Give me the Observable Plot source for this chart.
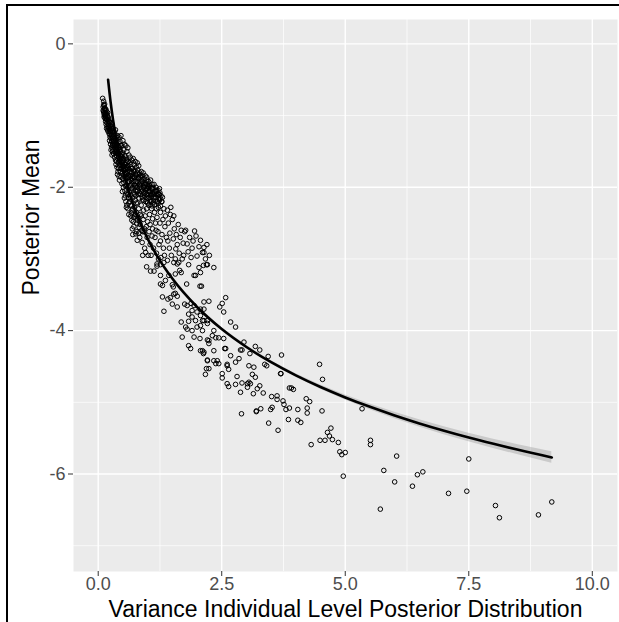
<!DOCTYPE html>
<html><head><meta charset="utf-8">
<script src="https://cdn.jsdelivr.net/npm/d3@7"></script>
<script src="https://cdn.jsdelivr.net/npm/@observablehq/plot@0.6"></script>
<style>
html,body{margin:0;padding:0;background:#fff;}
#wrap{position:relative;width:619px;height:622px;overflow:hidden;}
#frame{position:absolute;left:6px;top:4px;width:800px;height:800px;border-left:2px solid #000;border-top:2px solid #000;pointer-events:none;}
</style></head><body><div id="wrap"><div id="chart"></div><div id="frame"></div></div>
<script>
// ---- tick labels / titles ----
const xTicks = [0, 2.5, 5, 7.5, 10];
const xMinor = [1.25, 3.75, 6.25, 8.75];
const yTicks = [0, -2, -4, -6];
const yMinor = [-1, -3, -5, -7];
const xTitle = "Variance Individual Level Posterior Distribution";
const yTitle = "Posterior Mean";

// ---- scatter points [variance, posterior mean] ----
const denseSpine = [
[0.11,-0.80],[0.12,-0.86],[0.13,-0.84],[0.14,-0.90],[0.15,-0.93],[0.16,-0.92],[0.17,-0.97],[0.18,-1.00],[0.19,-0.96],[0.20,-1.02],[0.21,-1.05],[0.22,-1.08],[0.23,-1.10],[0.24,-1.14],[0.25,-1.16],[0.26,-1.20],[0.27,-1.18],[0.15,-0.99],[0.18,-1.06],[0.21,-1.17],[0.24,-1.22],[0.27,-1.36],[0.29,-1.42],[0.12,-1.02],[0.16,-1.05],
[0.28,-1.12],[0.30,-1.18],[0.32,-1.22],[0.34,-1.26],[0.36,-1.30],[0.38,-1.34],[0.40,-1.38],[0.31,-1.26],[0.35,-1.20],[0.39,-1.28],[0.33,-1.32],[0.37,-1.40],[0.29,-1.22],[0.41,-1.44],[0.26,-1.10],
[0.42,-1.30],[0.44,-1.36],[0.46,-1.28],[0.48,-1.42],[0.50,-1.35],[0.52,-1.48],[0.45,-1.50],[0.47,-1.58],[0.49,-1.52],[0.51,-1.62],[0.53,-1.40],[0.54,-1.56],[0.43,-1.44],[0.55,-1.68],[0.50,-1.60],[0.46,-1.42],[0.52,-1.72],[0.44,-1.55],[0.48,-1.66],[0.54,-1.80],
[0.56,-1.42],[0.58,-1.50],[0.60,-1.45],[0.62,-1.55],[0.57,-1.62],[0.59,-1.70],[0.61,-1.64],[0.63,-1.76],[0.65,-1.58],[0.66,-1.68],[0.64,-1.84],[0.67,-1.80],[0.68,-1.62],[0.69,-1.74],[0.58,-1.82],[0.60,-1.92],[0.62,-1.86],[0.66,-1.90],[0.70,-1.85],[0.56,-1.75],
[0.71,-1.60],[0.73,-1.68],[0.75,-1.64],[0.77,-1.72],[0.79,-1.66],[0.72,-1.78],[0.74,-1.86],[0.76,-1.82],[0.78,-1.92],[0.80,-1.76],[0.82,-1.70],[0.84,-1.80],[0.81,-1.88],[0.83,-1.96],[0.85,-1.86],[0.87,-1.78],[0.86,-1.94],[0.88,-2.02],[0.89,-1.84],[0.90,-1.92],[0.71,-1.92],[0.75,-2.04],[0.79,-2.00],[0.83,-2.08],
[0.91,-1.80],[0.93,-1.88],[0.95,-1.84],[0.97,-1.96],[0.99,-1.90],[0.92,-2.00],[0.94,-2.12],[0.96,-2.04],[0.98,-1.86],[1.00,-1.98],[1.02,-1.92],[1.04,-2.06],[1.01,-2.16],[1.03,-1.96],[1.05,-2.00],[1.06,-1.90],[1.08,-2.02],[1.07,-2.20],[1.09,-1.96],[1.10,-2.08],
[1.11,-2.00],[1.13,-1.96],[1.15,-2.06],[1.17,-2.00],[1.19,-2.10],[1.21,-2.04],[1.23,-2.16],[1.25,-2.08],[1.27,-2.12],[1.29,-2.20],[1.14,-2.24],[1.18,-2.30],[1.22,-2.22],[1.26,-2.26],[1.12,-2.10]
];
const denseCore = [
[0.31,-1.30],[0.32,-1.36],[0.34,-1.40],[0.35,-1.34],[0.36,-1.48],[0.37,-1.44],[0.38,-1.40],[0.39,-1.52],[0.40,-1.46],[0.41,-1.54],[0.42,-1.50],[0.43,-1.62],[0.44,-1.48],[0.45,-1.60],[0.46,-1.56],[0.47,-1.66],[0.48,-1.54],[0.49,-1.70],[0.50,-1.64],[0.51,-1.76],
[0.52,-1.60],[0.53,-1.68],[0.54,-1.74],[0.55,-1.58],[0.56,-1.86],[0.57,-1.72],[0.58,-1.66],[0.59,-1.78],[0.60,-1.74],[0.61,-1.84],[0.62,-1.70],[0.63,-1.92],[0.64,-1.66],[0.65,-1.78],[0.66,-1.84],[0.67,-1.94],[0.68,-1.74],[0.69,-1.88],[0.70,-2.00],[0.71,-1.76],
[0.72,-1.86],[0.73,-2.10],[0.74,-1.76],[0.75,-1.92],[0.76,-1.98],[0.77,-1.84],[0.78,-2.06],[0.79,-1.80],[0.80,-1.94],[0.81,-2.10],[0.82,-1.86],[0.83,-1.82],[0.84,-1.98],[0.85,-2.00],[0.86,-1.84],[0.87,-2.06],[0.88,-1.90],[0.89,-2.14],[0.90,-2.04],[0.91,-1.94],
[0.92,-2.18],[0.93,-2.00],[0.94,-1.96],[0.95,-2.08],[0.96,-1.94],[0.97,-2.14],[0.98,-2.10],[0.99,-2.02],[1.00,-2.22],[1.01,-2.06],[1.02,-2.00],[1.03,-2.14],[1.04,-1.98],[1.05,-2.24],[1.06,-2.08],[1.08,-2.12],[1.09,-2.26],[1.10,-2.02],[1.12,-2.18],[1.14,-2.08],
[1.16,-2.14],[1.18,-2.04],[1.20,-2.20],[1.22,-2.10],[1.24,-2.02],[1.26,-2.16],[0.55,-1.98],[0.60,-2.10],[0.65,-2.16],[0.70,-2.30],[0.75,-2.38],[0.80,-2.46],[0.85,-2.52],[0.90,-2.62],[0.62,-2.22],[0.67,-2.36],[0.72,-2.42],[0.77,-2.22],[0.82,-2.64],[0.87,-2.40]
];
const denseCluster = [
[0.09,-0.76],[0.11,-0.85],[0.10,-0.88],[0.12,-0.92],[0.11,-0.95],[0.13,-0.90],[0.12,-0.98],[0.10,-0.93],[0.13,-1.00],[0.14,-0.96],
[0.15,-1.02],[0.16,-0.98],[0.15,-1.08],[0.17,-1.05],[0.18,-1.10],[0.16,-1.12],[0.19,-1.02],[0.18,-1.15],[0.20,-1.08],[0.17,-1.18],[0.19,-1.20],[0.21,-1.13],[0.20,-1.22],[0.22,-1.18],[0.14,-1.04],
[0.22,-1.25],[0.23,-1.20],[0.24,-1.30],[0.25,-1.24],[0.23,-1.35],[0.26,-1.32],[0.27,-1.28],[0.25,-1.40],[0.28,-1.36],[0.29,-1.30],[0.27,-1.44],[0.30,-1.40],[0.26,-1.48],[0.29,-1.50],[0.31,-1.34],[0.28,-1.55],[0.30,-1.47],[0.32,-1.42],[0.24,-1.27],[0.31,-1.53],
[0.33,-1.38],[0.34,-1.45],[0.33,-1.58],[0.35,-1.52],[0.36,-1.42],[0.35,-1.62],[0.37,-1.56],[0.38,-1.48],[0.36,-1.68],[0.39,-1.60],[0.40,-1.52],[0.38,-1.72],[0.41,-1.66],[0.40,-1.78],[0.42,-1.58],[0.37,-1.64],[0.43,-1.70],[0.34,-1.50],[0.39,-1.82],[0.42,-1.85],[0.44,-1.62],[0.41,-1.74],[0.45,-1.78],[0.43,-1.90],[0.46,-1.68],
[0.47,-1.74],[0.46,-1.86],[0.48,-1.95],[0.49,-1.80],[0.50,-1.70],[0.50,-1.88],[0.51,-2.00],[0.52,-1.84],[0.53,-1.76],[0.52,-1.94],[0.54,-2.05],[0.55,-1.90],[0.56,-1.80],[0.55,-2.12],[0.57,-1.98],[0.58,-2.08],[0.56,-2.20],[0.59,-1.86],[0.60,-2.00],[0.58,-2.25],[0.61,-2.14],[0.62,-1.92],[0.60,-2.30],[0.63,-2.06],[0.53,-2.15],[0.57,-2.28],[0.64,-2.20],[0.49,-2.06],[0.62,-2.38],[0.65,-1.98],
[0.66,-2.10],[0.67,-2.25],[0.68,-2.02],[0.66,-2.40],[0.69,-2.32],[0.70,-2.15],[0.71,-2.48],[0.69,-2.58],[0.72,-2.08],[0.73,-2.28],[0.74,-2.40],[0.72,-2.55],[0.75,-2.18],[0.76,-2.65],[0.74,-2.00],[0.77,-2.35],[0.78,-2.50],[0.76,-2.12],[0.79,-2.74],[0.80,-2.22],[0.78,-2.62],[0.81,-2.42],[0.80,-2.05],[0.82,-2.30],[0.83,-2.56],[0.82,-2.15],[0.84,-2.70],[0.85,-2.38],[0.86,-2.10],[0.84,-2.48],[0.70,-2.66],[0.73,-1.96],[0.68,-2.46],[0.87,-2.25],[0.88,-2.60],
[0.89,-2.77],[0.90,-2.18],[0.91,-2.45],[0.92,-2.32],[0.93,-2.62],[0.92,-2.08],[0.94,-2.85],[0.95,-2.40],[0.96,-2.20],[0.96,-2.91],[0.97,-2.55],[0.98,-2.30],[0.99,-2.70],[1.00,-2.12],[1.00,-2.48],[1.01,-2.95],[1.02,-2.25],[1.03,-2.62],[1.04,-2.38],[1.05,-2.80],[1.03,-2.05],[1.06,-2.18],[1.05,-2.52],[1.07,-2.95],[1.08,-2.30],[1.09,-2.68],[1.07,-2.10],[0.94,-2.58],[0.98,-2.02],[1.10,-2.44],[1.11,-2.22],[1.12,-2.85],[1.10,-2.58],[1.13,-2.14],[0.90,-2.95],
[1.14,-2.35],[1.15,-2.70],[1.16,-2.50],[1.17,-2.20],[1.18,-2.92],[1.19,-2.42],[1.20,-2.12],[1.21,-2.62],[1.22,-2.28],[1.23,-2.80],[1.24,-2.18],[1.25,-2.50],[1.26,-2.35],[1.27,-2.98],[1.28,-2.20],[1.29,-2.66],[1.30,-2.14],[1.31,-2.45],[1.32,-2.85],[1.33,-2.30],[1.22,-3.00],[1.17,-2.60],[1.26,-2.75],[1.35,-2.55],[1.36,-2.40],[1.34,-2.95],[1.38,-2.70],[1.19,-3.10],[1.16,-2.05],[1.24,-2.10],
[1.40,-2.32],[1.42,-2.50],[1.44,-2.85],[1.46,-2.38],[1.45,-2.64],[1.48,-2.95],[1.50,-2.45],[1.52,-2.72],[1.54,-2.58],[1.56,-3.00],[1.58,-2.66],[1.60,-2.80],[1.62,-2.52],[1.64,-2.92],[1.66,-2.70],[1.68,-2.60],[1.70,-3.00],[1.72,-2.78],[1.75,-2.62],[1.77,-2.60],[1.80,-2.79],[1.82,-2.90],[1.85,-2.70],[1.88,-2.98],[1.41,-2.75],[1.47,-2.28],[1.53,-2.40],[1.57,-2.86],[1.63,-3.05],[1.73,-2.95],
[1.95,-2.61],[2.07,-2.74],[2.14,-2.84],[2.11,-2.91],[2.04,-2.83],[1.92,-2.75],[2.00,-2.96],[1.90,-2.85],[2.20,-2.80],[2.25,-2.95],[1.98,-2.68],[2.17,-3.00]
];
const midPoints = [
[0.98,-3.11],[1.06,-3.17],[1.13,-3.17],[1.19,-3.07],[1.26,-3.08],[1.33,-3.05],[1.40,-3.02],[1.53,-3.05],[1.60,-3.07],[1.83,-3.08],[2.04,-3.12],[2.21,-3.08],
[1.26,-3.23],[1.43,-3.23],[1.36,-3.30],[1.56,-3.21],[1.65,-3.16],[1.68,-3.19],[1.94,-3.23],[1.97,-3.23],[1.26,-3.35],[1.30,-3.37],[1.50,-3.36],[1.52,-3.39],[1.79,-3.35],[2.06,-3.38],
[1.30,-3.53],[1.41,-3.56],[1.46,-3.54],[1.53,-3.49],[1.56,-3.48],[1.60,-3.52],[1.50,-3.63],[1.60,-3.67],[1.33,-3.73],[1.75,-3.63],[1.80,-3.65],[1.88,-3.62],[1.94,-3.65],[1.90,-3.72],[2.00,-3.74],[2.07,-3.70],
[1.83,-3.77],[1.90,-3.81],[1.83,-3.87],[1.97,-3.86],[2.07,-3.79],[2.14,-3.86],[2.07,-3.93],[2.21,-3.90],[1.68,-3.88],[1.77,-3.95],[1.80,-3.98],[1.90,-4.00],[2.00,-3.95],[1.94,-4.09],[2.06,-4.11],[2.21,-4.13],[2.24,-4.18],
[1.70,-4.09],[1.83,-4.21],[1.87,-4.25],[2.11,-4.28],[2.13,-4.32],[2.56,-4.25],[2.21,-4.41],[2.34,-4.42],[2.61,-4.47],[2.19,-4.53],[3.05,-4.72],[3.20,-5.12],
[2.14,-2.91],[2.13,-3.09],[2.19,-3.08],[2.34,-3.12],[2.07,-3.19],[2.09,-3.38],[2.14,-3.60],[2.24,-3.59],[2.58,-3.54],[2.51,-3.62],[2.46,-3.67],[2.54,-3.74],[2.14,-3.70],[2.11,-3.86],[2.21,-3.86],[2.11,-4.00],
[2.34,-4.00],[2.31,-4.07],[2.38,-4.10],[2.24,-4.14],[2.44,-4.10],[2.54,-4.11],[2.68,-3.88],[2.78,-3.95],[2.07,-4.28],[2.14,-4.30],[2.34,-4.28],[2.58,-4.25],[2.68,-4.35],[2.85,-4.39],[2.78,-4.44],[2.95,-4.16],
[2.88,-4.27],[2.91,-4.27],[3.07,-4.32],[3.18,-4.22],[3.27,-4.27],[3.05,-4.49],[3.15,-4.51],[2.41,-4.42],[2.38,-4.46],[2.44,-4.46],[2.21,-4.42],[2.24,-4.53],[2.17,-4.61],[2.61,-4.49],[2.64,-4.54],[2.81,-4.64],
[2.51,-4.60],[2.51,-4.66],[2.61,-4.74],[2.64,-4.78],[2.78,-4.75],[2.91,-4.73],[3.02,-4.74],[2.88,-4.86],[3.02,-4.79],[3.37,-4.47],[3.41,-4.49],[3.44,-4.36],[3.71,-4.34],[3.69,-4.60],[2.90,-5.16],[4.48,-4.47]
];
const tailPoints = [
[3.12,-4.61],[3.18,-4.65],[3.08,-4.74],[3.27,-4.77],[3.22,-4.81],[3.14,-4.88],[3.34,-4.87],[3.70,-4.60],[3.51,-4.92],[3.62,-4.91],[3.62,-4.96],[3.74,-4.98],[3.76,-5.03],[3.87,-4.80],[3.91,-4.80],[3.95,-4.82],
[4.54,-4.68],[3.20,-5.13],[3.29,-5.09],[3.49,-5.10],[3.52,-5.07],[3.45,-5.29],[3.64,-5.39],[3.80,-5.10],[3.87,-5.08],[3.85,-5.24],[4.04,-5.10],[4.04,-5.25],[4.10,-5.28],[4.21,-4.95],[4.28,-4.99],[4.23,-5.08],
[4.23,-5.15],[4.53,-5.12],[4.31,-5.59],[4.49,-5.53],[4.59,-5.53],[4.64,-5.42],[4.68,-5.47],[4.71,-5.36],[4.74,-5.52],[4.86,-5.56],[4.89,-5.69],[4.93,-5.73],[5.00,-5.70],[4.96,-6.03],[5.34,-5.09],[5.51,-5.53],
[5.51,-5.59],[5.78,-5.95],[5.71,-6.49],[6.04,-5.75],[6.00,-6.11],[6.36,-6.17],[6.46,-6.01],[6.57,-5.97],[7.09,-6.27],[7.46,-6.24],[7.50,-5.79],[8.04,-6.44],[8.12,-6.61],[8.91,-6.57],[9.18,-6.39]
];

// ---- smooth fit ----
const fitX  = [0.2, 0.25, 0.3, 0.35, 0.4, 0.5, 0.6, 0.7, 0.8, 1.0, 1.2, 1.5, 2.0, 2.5, 3.0, 3.5, 4.0, 4.5, 5.0, 5.5, 6.0, 6.5, 7.0, 7.5, 8.0, 8.5, 9.18];
const fitY  = [-0.500, -0.807, -1.058, -1.270, -1.454, -1.762, -2.013, -2.225, -2.409, -2.716, -2.967, -3.274, -3.670, -3.978, -4.229, -4.441, -4.625, -4.787, -4.932, -5.063, -5.183, -5.294, -5.396, -5.491, -5.579, -5.663, -5.769];
const fitSE = [0.040, 0.035, 0.030, 0.028, 0.026, 0.025, 0.023, 0.022, 0.021, 0.020, 0.019, 0.018, 0.018, 0.019, 0.020, 0.022, 0.025, 0.030, 0.035, 0.040, 0.045, 0.050, 0.055, 0.060, 0.065, 0.070, 0.080];

const points = [...denseSpine, ...denseCore, ...denseCluster, ...midPoints, ...tailPoints].map(([x, y]) => ({x, y}));
const fit = fitX.map((x, i) => ({x, y: fitY[i], lo: fitY[i] - fitSE[i], hi: fitY[i] + fitSE[i]}));

const font = "'Liberation Sans', Arial, Helvetica, sans-serif";
const chart = Plot.plot({
  width: 619, height: 622,
  marginLeft: 73, marginRight: 2, marginTop: 19, marginBottom: 51,
  style: {fontFamily: font, background: "transparent", overflow: "visible"},
  x: {domain: [-0.5, 10.51]},
  y: {domain: [-7.36, 0.34]},
  marks: [
    Plot.frame({fill: "#EBEBEB", stroke: "none"}),
    Plot.gridX(xMinor, {stroke: "#fff", strokeOpacity: 1, strokeWidth: 0.7}),
    Plot.gridY(yMinor, {stroke: "#fff", strokeOpacity: 1, strokeWidth: 0.7}),
    Plot.gridX(xTicks, {stroke: "#fff", strokeOpacity: 1, strokeWidth: 1.4}),
    Plot.gridY(yTicks, {stroke: "#fff", strokeOpacity: 1, strokeWidth: 1.4}),
    Plot.areaY(fit, {x: "x", y1: "lo", y2: "hi", fill: "#999999", fillOpacity: 0.4}),
    Plot.dot(points, {x: "x", y: "y", r: 2.3, stroke: "#000", strokeWidth: 1, fill: "none"}),
    Plot.line(fit, {x: "x", y: "y", stroke: "#000", strokeWidth: 2.6, curve: "monotone-x"}),
    Plot.axisX(xTicks, {tickFormat: d3.format(".1f"), tickSize: 5, tickPadding: 1, fontSize: 18, stroke: "#333333", fill: "#4D4D4D", label: null}),
    Plot.axisY(yTicks, {tickFormat: d => String(d), tickSize: 5, tickPadding: 3, fontSize: 18, stroke: "#333333", fill: "#4D4D4D", label: null}),
    Plot.text([xTitle], {text: d => d, frameAnchor: "bottom", dy: 38, fontSize: 23, fill: "#000", lineAnchor: "middle"}),
    Plot.text([yTitle], {text: d => d, frameAnchor: "left", dx: -42, rotate: -90, fontSize: 23, fill: "#000", lineAnchor: "middle"})
  ]
});
document.getElementById("chart").appendChild(chart);
</script>
</body></html>
